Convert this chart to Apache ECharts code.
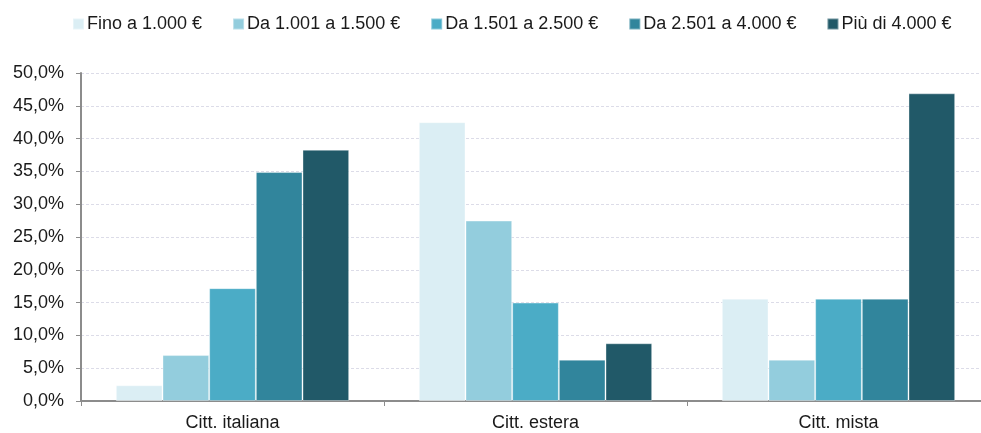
<!DOCTYPE html>
<html>
<head>
<meta charset="utf-8">
<script src="https://cdn.jsdelivr.net/npm/echarts@6/dist/echarts.min.js"></script>
<style>
  html, body { margin: 0; padding: 0; background: #fff; }
  #chart { width: 981px; height: 433px; }
</style>
</head>
<body>
<div id="chart"></div>
<script>
// Cittadinanza (categorie) e fasce di reddito (serie), valori in %
const categories = ['Citt. italiana', 'Citt. estera', 'Citt. mista'];
const seriesNames = ['Fino a 1.000 €', 'Da 1.001 a 1.500 €', 'Da 1.501 a 2.500 €', 'Da 2.501 a 4.000 €', 'Più di 4.000 €'];
const fino1000 = [2.4, 42.5, 15.6];
const da1001a1500 = [7.0, 27.5, 6.3];
const da1501a2500 = [17.2, 15.0, 15.6];
const da2501a4000 = [34.9, 6.3, 15.6];
const oltre4000 = [38.3, 8.8, 46.9];
const yTicks = [0, 5, 10, 15, 20, 25, 30, 35, 40, 45, 50];

const colors = ['#DBEEF4', '#93CDDD', '#4BACC6', '#31859C', '#215968'];
const seriesData = [fino1000, da1001a1500, da1501a2500, da2501a4000, oltre4000];
const font = 'Liberation Sans, Arial, sans-serif';

const chart = echarts.init(document.getElementById('chart'), null, { renderer: 'canvas' });
chart.setOption({
  animation: false,
  color: colors,
  legend: {
    top: 10,
    left: 67,
    itemWidth: 11,
    itemHeight: 11,
    itemGap: 30,
    icon: 'rect',
    textStyle: { fontFamily: font, fontSize: 18, color: '#1a1a1a', padding: [0, 0, 0, -2] },
    data: seriesNames
  },
  grid: { left: 81, top: 73, right: -9, bottom: 32, containLabel: false, outerBoundsMode: 'none' },
  xAxis: {
    type: 'category',
    data: categories,
    axisLine: { lineStyle: { color: '#8c8c8c', width: 2 } },
    axisTick: { show: true, length: 5, lineStyle: { color: '#8c8c8c' } },
    axisLabel: { fontFamily: font, fontSize: 18, color: '#1a1a1a', margin: 13 }
  },
  yAxis: {
    type: 'value',
    min: yTicks[0],
    max: yTicks[yTicks.length - 1],
    interval: 5,
    axisLine: { show: true, lineStyle: { color: '#8c8c8c', width: 2 } },
    axisTick: { show: true, length: 5, lineStyle: { color: '#8c8c8c' } },
    splitLine: { show: true, lineStyle: { color: '#dcdce8', type: [3, 2], width: 1 } },
    axisLabel: {
      fontFamily: font, fontSize: 18, color: '#1a1a1a', margin: 17,
      formatter: v => v.toFixed(1).replace('.', ',') + '%'
    }
  },
  series: seriesNames.map((name, i) => ({
    name: name,
    type: 'bar',
    data: seriesData[i],
    barGap: '0%',
    barCategoryGap: '23%',
    itemStyle: { color: colors[i], borderColor: 'rgba(255,255,255,0.35)', borderWidth: 1 }
  }))
});
</script>
</body>
</html>
